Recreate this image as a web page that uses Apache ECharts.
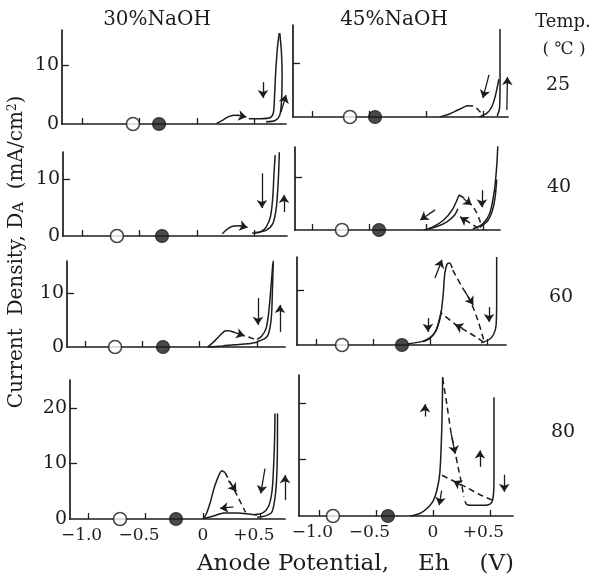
<!DOCTYPE html>
<html><head><meta charset="utf-8">
<script src="https://cdn.jsdelivr.net/npm/echarts@6/dist/echarts.min.js"></script>
<style>html,body{margin:0;padding:0;background:#fff}#c{width:595px;height:576px}</style>
</head><body><div id="c"></div>
<script>
// ---------- tick values / labels ----------
const xTickValues = [-1, -0.5, 0, 0.5];
const xTickText = ['−1.0', '−0.5', '0', '+0.5'];
const yTicksLow = [10];
const yTicksHigh = [10, 20];
const yLabelsLow = [0, 10];
const yLabelsHigh = [0, 10, 20];
const columnTitles = ['30%NaOH', '45%NaOH'];
const temperatures = ['25', '40', '60', '80'];

// ---------- 25 °C, 30% NaOH ----------
const c30t25_hump = [[0.17,0.1],[0.22,0.6],[0.27,1.2],[0.32,1.5],[0.37,1.45]];
const c30t25_up = [[0.6,0.4],[0.68,0.6],[0.72,1.5],[0.735,4],[0.74,8],[0.735,12],[0.72,15.4]];
const c30t25_down = [[0.715,15.4],[0.7,13],[0.685,9],[0.675,5],[0.665,2],[0.64,1.1],[0.55,0.9],[0.45,0.9]];
const c30t25_rest = [-0.557, -0.33];
const c30t25_arrows = [[[0.35,1.5],[0.43,1.2]], [[0.574,7.1],[0.574,4.4]], [[0.73,2.0],[0.774,4.9]]];

// ---------- 25 °C, 45% NaOH ----------
const c45t25_a = [[0.12,0],[0.2,0.5],[0.28,1.3],[0.36,2.1]];
const c45t25_b = [[0.47,0],[0.54,0.8],[0.58,2],[0.61,4],[0.64,7]];
const c45t25_c = [[0.65,16.3],[0.65,6],[0.645,1.5],[0.625,0.2]];
const c45t25_dash = [[0.36,2.1],[0.42,2.0],[0.46,1.3],[0.5,0.4]];
const c45t25_rest = [-0.667, -0.447];
const c45t25_arrows = [[[0.553,7.8],[0.5,3.5]], [[0.71,1.3],[0.715,7.4]]];

// ---------- 40 °C, 30% NaOH ----------
const c30t40_hump = [[0.22,0.4],[0.27,1.3],[0.32,1.75],[0.38,1.8],[0.42,1.6]];
const c30t40_down = [[0.68,14.2],[0.67,11],[0.66,7],[0.64,3.5],[0.6,1.5],[0.55,0.7],[0.48,0.5]];
const c30t40_up = [[0.5,0.6],[0.6,1.0],[0.66,2.2],[0.69,5],[0.705,9],[0.712,12],[0.716,14.7]];
const c30t40_rest = [-0.696, -0.304];
const c30t40_arrows = [[[0.38,1.8],[0.44,1.5]], [[0.565,11],[0.565,4.9]], [[0.757,4.2],[0.757,7.2]]];

// ---------- 40 °C, 45% NaOH ----------
const c45t40_l1 = [[-0.02,0],[0.06,0.6],[0.15,1.8],[0.23,3.8],[0.29,6.6]];
const c45t40_l2 = [[0.02,0.2],[0.1,0.7],[0.18,1.5],[0.25,2.8],[0.28,4]];
const c45t40_r1 = [[0.41,0.2],[0.5,1.2],[0.56,3.2],[0.6,7.5],[0.62,12],[0.63,16]];
const c45t40_r2 = [[0.47,0.5],[0.54,1.7],[0.58,3.5],[0.605,6],[0.62,9.5]];
const c45t40_d1 = [[0.29,6.6],[0.36,5.6],[0.43,3.8],[0.47,1.9],[0.49,0.6]];
const c45t40_d2 = [[0.46,0.3],[0.41,1.0],[0.35,1.8],[0.3,2.5]];
const c45t40_rest = [-0.737, -0.412];
const c45t40_arrows = [[[0.08,3.8],[-0.05,1.9]], [[0.49,7.5],[0.49,4.3]], [[0.67,4.2],[0.68,8.9]],
                       [[0.33,5.9],[0.4,4.7]], [[0.36,1.6],[0.3,2.4]]];

// ---------- 60 °C, 30% NaOH ----------
const c30t60_hump = [[0.07,0],[0.12,0.9],[0.17,2.0],[0.23,3.0],[0.26,3.0]];
const c30t60_base = [[0.07,0],[0.2,0.2],[0.3,0.4],[0.42,0.6],[0.5,0.9]];
const c30t60_up = [[0.5,1.0],[0.57,1.6],[0.6,2.4],[0.625,5.5],[0.635,11],[0.642,16]];
const c30t60_down = [[0.638,15.5],[0.625,12],[0.605,7],[0.58,3.5],[0.54,2],[0.5,1.4]];
const c30t60_dash = [[0.26,3.0],[0.33,2.5],[0.4,2.0],[0.46,1.6],[0.5,1.2]];
const c30t60_rest = [-0.738, -0.32];
const c30t60_arrows = [[[0.31,2.65],[0.39,2.1]], [[0.508,9.1],[0.508,4.1]], [[0.7,2.8],[0.7,7.8]]];

// ---------- 60 °C, 45% NaOH ----------
const c45t60_up = [[-0.2,0.2],[-0.05,0.8],[0.04,2.2],[0.09,5],[0.115,9],[0.13,13],[0.15,14.7],[0.17,14.9],[0.195,14]];
const c45t60_back = [[0.1,6.2],[0.08,4.5],[0.05,2.5],[0.0,1.2],[-0.06,0.6]];
const c45t60_right = [[0.45,0.4],[0.52,1.0],[0.56,2.0],[0.58,3.6],[0.585,8],[0.585,16]];
const c45t60_d1 = [[0.2,13.6],[0.28,10.6],[0.35,8.2],[0.42,4.5],[0.47,1.0]];
const c45t60_d2 = [[0.47,0.5],[0.4,1.5],[0.32,2.5],[0.22,3.8],[0.1,5.8]];
const c45t60_rest = [-0.772, -0.246];
const c45t60_arrows = [[[0.044,12.2],[0.105,15.5]], [[-0.018,4.9],[-0.018,2.4]], [[0.518,6.9],[0.518,4.2]],
                       [[0.684,6.7],[0.684,10.4]], [[0.31,9.6],[0.38,7.3]], [[0.29,3.0],[0.22,3.7]]];

// ---------- 80 °C, 30% NaOH ----------
const c30t80_hump = [[0.0,0],[0.03,1],[0.06,2.8],[0.1,5.8],[0.14,8],[0.165,8.7],[0.19,8.4]];
const c30t80_base = [[0.0,0.1],[0.1,0.6],[0.18,1.1],[0.3,1.1],[0.4,0.9],[0.47,0.7]];
const c30t80_down = [[0.626,19],[0.622,14],[0.615,10],[0.6,5],[0.57,2.3],[0.52,1.1],[0.45,0.8]];
const c30t80_up = [[0.47,0.3],[0.55,0.6],[0.6,1.3],[0.63,4.5],[0.645,10],[0.648,19]];
const c30t80_dash = [[0.19,8.4],[0.25,6.1],[0.31,3.7],[0.37,1.2]];
const c30t80_rest = [-0.722, -0.235];
const c30t80_arrows = [[[0.539,9.1],[0.502,4.6]], [[0.713,3.4],[0.713,7.9]], [[0.264,2.2],[0.148,1.9]],
                       [[0.22,6.9],[0.29,5.0]]];

// ---------- 80 °C, 45% NaOH ----------
const c45t80_up = [[-0.2,0],[-0.12,0.4],[-0.06,1.2],[0.0,2.6],[0.035,4.6],[0.06,7.6],[0.075,14],[0.082,20],[0.085,24.6]];
const c45t80_u = [[0.28,2.6],[0.3,2.0],[0.36,1.9],[0.44,1.9],[0.5,2.1],[0.525,3],[0.535,6],[0.535,21]];
const c45t80_d1 = [[0.085,24.4],[0.12,20],[0.16,14.6],[0.19,11.7],[0.22,8.7],[0.25,5.8],[0.27,3.4]];
const c45t80_d2 = [[0.52,2.8],[0.4,3.9],[0.3,5.0],[0.2,6.0],[0.06,7.4]];
const c45t80_rest = [-0.877, -0.395];
const c45t80_arrows = [[[-0.07,17.6],[-0.07,19.8]], [[0.076,4.5],[0.055,1.9]], [[0.412,8.7],[0.412,11.6]],
                       [[0.625,7.3],[0.625,4.3]], [[0.16,14.6],[0.195,11]], [[0.25,5.4],[0.18,6.2]]];

// ---------- panel layout ----------
const panels = [
  {rect:[62,30,224,94],  x:[-1.174,0.774], ymax:15.93, yt:yTicksLow,  yl:yLabelsLow,  left:true,  bottom:false,
   solid:[c30t25_hump,c30t25_up,c30t25_down], dashed:[], rest:c30t25_rest, arrows:c30t25_arrows},
  {rect:[293,25,215,92], x:[-1.167,0.72],  ymax:17.04, yt:yTicksLow,  yl:yLabelsLow,  left:false, bottom:false,
   solid:[c45t25_a,c45t25_b,c45t25_c], dashed:[c45t25_dash], rest:c45t25_rest, arrows:c45t25_arrows},
  {rect:[63,152,224,84], x:[-1.165,0.783], ymax:14.74, yt:yTicksLow,  yl:yLabelsLow,  left:true,  bottom:false,
   solid:[c30t40_hump,c30t40_down,c30t40_up], dashed:[], rest:c30t40_rest, arrows:c30t40_arrows},
  {rect:[295,147,205,83],x:[-1.149,0.649], ymax:15.66, yt:yTicksLow,  yl:yLabelsLow,  left:false, bottom:false,
   solid:[c45t40_l1,c45t40_l2,c45t40_r1,c45t40_r2], dashed:[c45t40_d1,c45t40_d2], rest:c45t40_rest, arrows:c45t40_arrows},
  {rect:[67,261,218,86], x:[-1.157,0.744], ymax:15.93, yt:yTicksLow,  yl:yLabelsLow,  left:true,  bottom:false,
   solid:[c30t60_hump,c30t60_base,c30t60_up,c30t60_down], dashed:[c30t60_dash], rest:c30t60_rest, arrows:c30t60_arrows},
  {rect:[297,257,209,88],x:[-1.167,0.667], ymax:16,    yt:yTicksLow,  yl:yLabelsLow,  left:false, bottom:false,
   solid:[c45t60_up,c45t60_back,c45t60_right], dashed:[c45t60_d1,c45t60_d2], rest:c45t60_rest, arrows:c45t60_arrows},
  {rect:[70,380,215,139],x:[-1.157,0.713], ymax:25.05, yt:yTicksHigh, yl:yLabelsHigh, left:true,  bottom:true,
   solid:[c30t80_hump,c30t80_base,c30t80_down,c30t80_up], dashed:[c30t80_dash], rest:c30t80_rest, arrows:c30t80_arrows},
  {rect:[299,375,214,141],x:[-1.175,0.702],ymax:24.96, yt:yTicksHigh, yl:yLabelsHigh, left:false, bottom:true,
   solid:[c45t80_up,c45t80_u], dashed:[c45t80_d1,c45t80_d2], rest:c45t80_rest, arrows:c45t80_arrows}
];

const INK = '#1c1c1c';
const FONT = '"DejaVu Serif", "Liberation Serif", serif';

const grid = [], xAxis = [], yAxis = [], series = [];
panels.forEach((p, i) => {
  grid.push({left:p.rect[0], top:p.rect[1], width:p.rect[2], height:p.rect[3], containLabel:false, outerBoundsMode:'none'});
  xAxis.push({
    type:'value', gridIndex:i, min:p.x[0], max:p.x[1],
    axisLine:{onZero:false, lineStyle:{color:INK, width:1.7}},
    axisTick:{inside:true, length:6, customValues:xTickValues, lineStyle:{color:INK, width:1.3}},
    splitLine:{show:false},
    axisLabel:{
      show:p.bottom, customValues:xTickValues, margin:8,
      formatter:(v) => {
        const k = xTickValues.findIndex(t => Math.abs(t - v) < 1e-6);
        if (k < 0) return '';
        return xTickText[k] === '0' ? '{z|0}' : '{s|' + xTickText[k] + '}';
      },
      rich:{
        s:{fontFamily:FONT, fontSize:17, color:INK, padding:[0,13,0,0]},
        z:{fontFamily:FONT, fontSize:17, color:INK}
      }
    }
  });
  yAxis.push({
    type:'value', gridIndex:i, min:0, max:p.ymax,
    axisLine:{onZero:false, lineStyle:{color:INK, width:1.7}},
    axisTick:{inside:true, length:7, customValues:p.yt, lineStyle:{color:INK, width:1.3}},
    splitLine:{show:false},
    axisLabel:{
      show:p.left, customValues:p.yl, margin:3,
      fontFamily:FONT, fontSize:19, color:INK,
      formatter:(v) => (p.yl.some(t => Math.abs(t - v) < 1e-6) ? String(Math.round(v)) : '')
    }
  });
  p.solid.forEach(d => series.push({
    type:'line', xAxisIndex:i, yAxisIndex:i, data:d, smooth:0.3, showSymbol:false, silent:true,
    lineStyle:{color:INK, width:1.5}
  }));
  p.dashed.forEach(d => series.push({
    type:'line', xAxisIndex:i, yAxisIndex:i, data:d, smooth:0.3, showSymbol:false, silent:true,
    lineStyle:{color:INK, width:1.5, type:[6,4]}
  }));
  series.push({
    type:'scatter', xAxisIndex:i, yAxisIndex:i, data:[[p.rest[0],0]], symbol:'circle', symbolSize:13, clip:false, z:5,
    itemStyle:{color:'#fff', borderColor:INK, borderWidth:1.6}
  });
  series.push({
    type:'scatter', xAxisIndex:i, yAxisIndex:i, data:[[p.rest[1],0]], symbol:'circle', symbolSize:13, clip:false, z:5,
    itemStyle:{color:INK, borderColor:INK, borderWidth:1.2}
  });
  series.push({
    type:'scatter', xAxisIndex:i, yAxisIndex:i, data:[], clip:false,
    markLine:{
      silent:true, symbol:['none','arrow'], symbolSize:8, precision:4,
      label:{show:false}, lineStyle:{color:INK, width:1.3, type:'solid'},
      data:p.arrows.map(a => [{coord:a[0]}, {coord:a[1]}])
    }
  });
});

const txt = (text, x, y, size, align) => ({
  type:'text', x:x, y:y, silent:true,
  style:{text:text, fontFamily:FONT, fontSize:size, fill:INK, textAlign:align || 'center', textVerticalAlign:'middle'}
});

const graphic = [
  txt(columnTitles[0], 157, 20, 20),
  txt(columnTitles[1], 394, 20, 20),
  txt('Temp.', 563, 22, 18),
  txt('( ℃ )', 564, 50, 17),
  txt(temperatures[0], 558, 85, 19),
  txt(temperatures[1], 559, 187, 19),
  txt(temperatures[2], 561, 297, 19),
  txt(temperatures[3], 563, 432, 19),
  txt('Anode Potential,', 197, 564, 23, 'left'),
  txt('Eh', 418, 564, 23, 'left'),
  txt('(V)', 514, 564, 23, 'right'),
  {
    type:'text', x:17, y:252, rotation:Math.PI/2, silent:true,
    style:{
      text:'{n|Current  Density, D}{b|A}{n|  (mA/cm}{p|2}{n|)}',
      textAlign:'center', textVerticalAlign:'middle', fill:INK,
      rich:{
        n:{fontFamily:FONT, fontSize:20, fill:INK, color:INK},
        b:{fontFamily:FONT, fontSize:15, fill:INK, color:INK, verticalAlign:'bottom'},
        p:{fontFamily:FONT, fontSize:12, fill:INK, color:INK, verticalAlign:'top'}
      }
    }
  }
];

const chart = echarts.init(document.getElementById('c'), null, {renderer:'canvas'});
chart.setOption({animation:false, backgroundColor:'#fff', grid, xAxis, yAxis, series, graphic});
</script></body></html>
